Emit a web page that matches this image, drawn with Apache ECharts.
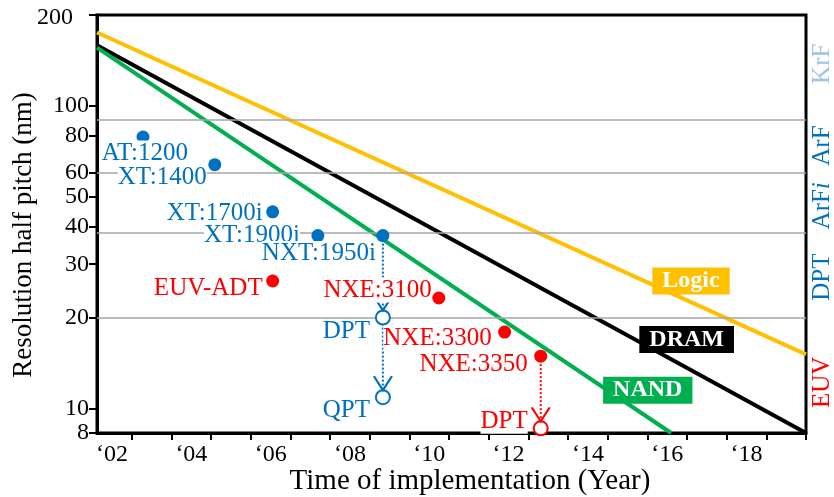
<!DOCTYPE html>
<html>
<head>
<meta charset="utf-8">
<script src="https://cdn.jsdelivr.net/npm/echarts@6/dist/echarts.min.js"></script>
<style>
html,body{margin:0;padding:0;background:#fff;}
#chart{width:834px;height:497px;}
</style>
</head>
<body>
<div id="chart"></div>
<script>
// ---------- data ----------
const xLabelYears = [2002, 2004, 2006, 2008, 2010, 2012, 2014, 2016, 2018];
const xTickYears = [2002.5, 2003.5, 2004.5, 2005.5, 2006.5, 2007.5, 2008.5, 2009.5, 2010.5,
  2011.5, 2012.5, 2013.5, 2014.5, 2015.5, 2016.5, 2017.5, 2018.5, 2019.5];
const yTickValues = [8.3, 10, 20, 30, 40, 50, 60, 80, 100, 200];
const yTickLabels = ['8', '10', '20', '30', '40', '50', '60', '80', '100', '200'];
const bandBoundaries = [90, 60, 38, 20];
const bandNames = ['KrF', 'ArF', 'ArFi', 'DPT', 'EUV'];
const bandLabelValues = [138, 74, 46.8, 27.2, 12.2];

const trendNames = ['Logic', 'DRAM', 'NAND'];
const logicLine = [[2001.62, 175], [2019.5, 15.1]];
const dramLine = [[2001.62, 159], [2019.5, 8.3]];
const nandLine = [[2001.62, 156], [2016.1, 8.3]];
const trendLabelYears = [2016.6, 2016.49, 2015.51];
const trendLabelPitch = [26.4, 16.9, 11.5];

const arfToolNames = ['AT:1200', 'XT:1400', 'XT:1700i', 'XT:1900i', 'NXT:1950i'];
const arfToolYears = [2002.78, 2004.59, 2006.05, 2007.19, 2008.83];
const arfToolPitch = [79, 64, 44.7, 37.3, 37.3];

const euvToolNames = ['EUV-ADT', 'NXE:3100', 'NXE:3300', 'NXE:3350'];
const euvToolYears = [2006.05, 2010.24, 2011.9, 2012.81];
const euvToolPitch = [26.4, 23.2, 17.9, 14.9];

const arfMultiNames = ['DPT', 'QPT'];
const arfMultiYears = [2008.83, 2008.83];
const arfMultiPitch = [20, 10.9];

const euvMultiNames = ['DPT'];
const euvMultiYears = [2012.81];
const euvMultiPitch = [8.6];

// ---------- styling ----------
const FONT = '"Liberation Serif", "Times New Roman", serif';
const BLUE = '#0070C0', RED = '#FF0000', ORANGE = '#FFC000', GREEN = '#00B050', LIGHTBLUE = '#9DC3E6';
const trendColors = [ORANGE, '#000000', GREEN];

// label offsets (right-aligned text end relative to marker centre)
const labelOffsets = {
  'AT:1200': [45, 16], 'XT:1400': [-8, 13], 'XT:1700i': [-10, 2], 'XT:1900i': [-18, 0],
  'NXT:1950i': [-7, 18], 'EUV-ADT': [-10, 7], 'NXE:3100': [-7, -8], 'NXE:3300': [-13, 6],
  'NXE:3350': [-13, 8], 'DPT_b': [-13, 14], 'QPT': [-13, 13], 'DPT_r': [-13, -7]
};

function pts(names, xs, ys, key) {
  return names.map((n, i) => {
    const k = key ? n + key : n;
    const off = labelOffsets[k] || labelOffsets[n] || [0, 0];
    return { name: n, value: [xs[i], ys[i]], label: { offset: off } };
  });
}

const pointLabel = (color) => ({
  show: true, position: 'inside', align: 'right', verticalAlign: 'middle',
  formatter: '{b}', color: color, fontFamily: FONT, fontSize: 25,
  backgroundColor: '#fff'
});

function nearestIndex(list, v) {
  let idx = 0, best = Infinity;
  list.forEach((t, i) => { const d = Math.abs(Math.log(t) - Math.log(v)); if (d < best) { best = d; idx = i; } });
  return idx;
}

const chart = echarts.init(document.getElementById('chart'), null, { renderer: 'canvas' });

const option = {
  animation: false,
  backgroundColor: '#fff',
  grid: {
    left: 97, right: 28, top: 15, bottom: 64, outerBoundsMode: 'none', containLabel: false,
    show: true, borderColor: '#000', borderWidth: 3, backgroundColor: 'transparent'
  },
  xAxis: {
    type: 'value', min: 2001.62, max: 2019.5,
    name: 'Time of implementation (Year)', nameLocation: 'middle', nameGap: 34, nameMoveOverlap: false,
    nameTextStyle: { fontFamily: FONT, fontSize: 29, color: '#000', padding: [0, 0, 0, 37] },
    axisLine: { show: true, lineStyle: { color: '#000', width: 3 } },
    axisTick: { show: true, customValues: xTickYears, length: 7, lineStyle: { color: '#000', width: 2 } },
    axisLabel: {
      customValues: xLabelYears, margin: 10, fontFamily: FONT, fontSize: 24, color: '#000',
      formatter: v => '\u2018' + String(Math.round(v)).slice(2)
    },
    splitLine: { show: false }
  },
  yAxis: [{
    type: 'log', logBase: 10, min: 8.3, max: 200,
    name: 'Resolution half pitch (nm)', nameLocation: 'middle', nameGap: 60, nameMoveOverlap: false,
    nameTextStyle: { fontFamily: FONT, fontSize: 27, color: '#000', padding: [0, 22, 0, 0] },
    axisLine: { show: true, lineStyle: { color: '#000', width: 3 } },
    axisTick: { show: true, customValues: yTickValues, length: 8, lineStyle: { color: '#000', width: 2 } },
    axisLabel: {
      customValues: yTickValues, margin: 8, fontFamily: FONT, fontSize: 24, color: '#000',
      hideOverlap: false,
      formatter: v => {
        const s = yTickLabels[nearestIndex(yTickValues, v)];
        return s === '200' ? '{top|' + s + '}' : '{n|' + s + '}';
      },
      rich: {
        top: { fontFamily: FONT, fontSize: 24, color: '#000', padding: [6, 16, 0, 0] },
        n: { fontFamily: FONT, fontSize: 24, color: '#000' }
      }
    },
    splitLine: { show: false }
  }, {
    type: 'log', logBase: 10, min: 8.3, max: 200, position: 'right',
    axisLine: { show: false }, axisTick: { show: false }, splitLine: { show: false },
    axisLabel: {
      customValues: bandLabelValues, rotate: 90, margin: 4,
      formatter: v => {
        const n = bandNames[nearestIndex(bandLabelValues, v)];
        if (n === 'KrF') return '{krf|KrF}';
        if (n === 'ArF') return '{arf|ArF}';
        if (n === 'ArFi') return '{arf|ArF}{ital|i}';
        if (n === 'DPT') return '{arf|DPT}';
        return '{euv|EUV}';
      },
      rich: {
        krf: { color: LIGHTBLUE, fontFamily: FONT, fontSize: 25 },
        arf: { color: BLUE, fontFamily: FONT, fontSize: 25 },
        ital: { color: BLUE, fontFamily: FONT, fontSize: 25, fontStyle: 'italic' },
        euv: { color: RED, fontFamily: FONT, fontSize: 25 }
      }
    }
  }],
  series: [
    {
      type: 'line', data: [], z: 1, silent: true,
      markLine: {
        silent: true, symbol: ['none', 'none'], label: { show: false },
        lineStyle: { color: '#A6A6A6', width: 1.5, type: 'solid' },
        data: bandBoundaries.map(v => ({ yAxis: v }))
      }
    },
    ...[logicLine, dramLine, nandLine].map((d, i) => ({
      name: trendNames[i], type: 'line', data: d, symbol: 'none', z: 3,
      lineStyle: { color: trendColors[i], width: 4 }
    })),
    {
      type: 'line', z: 4, symbol: 'none',
      data: [[arfToolYears[4], arfToolPitch[4]], [arfMultiYears[1], arfMultiPitch[1]]],
      lineStyle: { color: BLUE, width: 2, type: [2, 2] }
    },
    {
      type: 'line', z: 4, symbol: 'none',
      data: [[euvToolYears[3], euvToolPitch[3]], [euvMultiYears[0], euvMultiPitch[0]]],
      lineStyle: { color: RED, width: 2, type: [2, 2] }
    },
    {
      type: 'scatter', z: 6, symbolSize: 0, itemStyle: { opacity: 1 },
      data: trendNames.map((n, i) => ({
        name: n, value: [trendLabelYears[i], trendLabelPitch[i]],
        label: { backgroundColor: trendColors[i] }
      })),
      label: {
        show: true, position: 'inside', formatter: '{b}', color: '#fff', fontWeight: 'bold',
        fontFamily: FONT, fontSize: 24, padding: [1, 10, 0, 10], lineHeight: 26
      }
    },
    {
      type: 'scatter', z: 5, symbol: 'circle', symbolSize: 13,
      itemStyle: { color: BLUE, opacity: 1 },
      data: pts(arfToolNames, arfToolYears, arfToolPitch),
      label: pointLabel(BLUE)
    },
    {
      type: 'scatter', z: 5, symbol: 'circle', symbolSize: 13,
      itemStyle: { color: RED, opacity: 1 },
      data: pts(euvToolNames, euvToolYears, euvToolPitch),
      label: pointLabel(RED)
    },
    {
      type: 'scatter', z: 5, symbol: 'circle', symbolSize: 14,
      itemStyle: { color: '#fff', borderColor: BLUE, borderWidth: 2, opacity: 1 },
      data: pts(arfMultiNames, arfMultiYears, arfMultiPitch, '_b'),
      label: pointLabel(BLUE)
    },
    {
      type: 'scatter', z: 5, symbol: 'circle', symbolSize: 14,
      itemStyle: { color: '#fff', borderColor: RED, borderWidth: 2, opacity: 1 },
      data: pts(euvMultiNames, euvMultiYears, euvMultiPitch, '_r'),
      label: pointLabel(RED)
    },
    {
      type: 'scatter', z: 5, symbol: 'path://M0,0 L9,14 L18,0', symbolSize: [18, 14], symbolOffset: [0, -14],
      itemStyle: { color: 'rgba(0,0,0,0)', borderColor: BLUE, borderWidth: 2, opacity: 1 },
      data: arfMultiYears.map((x, i) => [x, arfMultiPitch[i]])
    },
    {
      type: 'scatter', z: 5, symbol: 'path://M0,0 L9,14 L18,0', symbolSize: [18, 14], symbolOffset: [0, -14],
      itemStyle: { color: 'rgba(0,0,0,0)', borderColor: RED, borderWidth: 2, opacity: 1 },
      data: euvMultiYears.map((x, i) => [x, euvMultiPitch[i]])
    }
  ]
};
chart.setOption(option);
</script>
</body>
</html>
